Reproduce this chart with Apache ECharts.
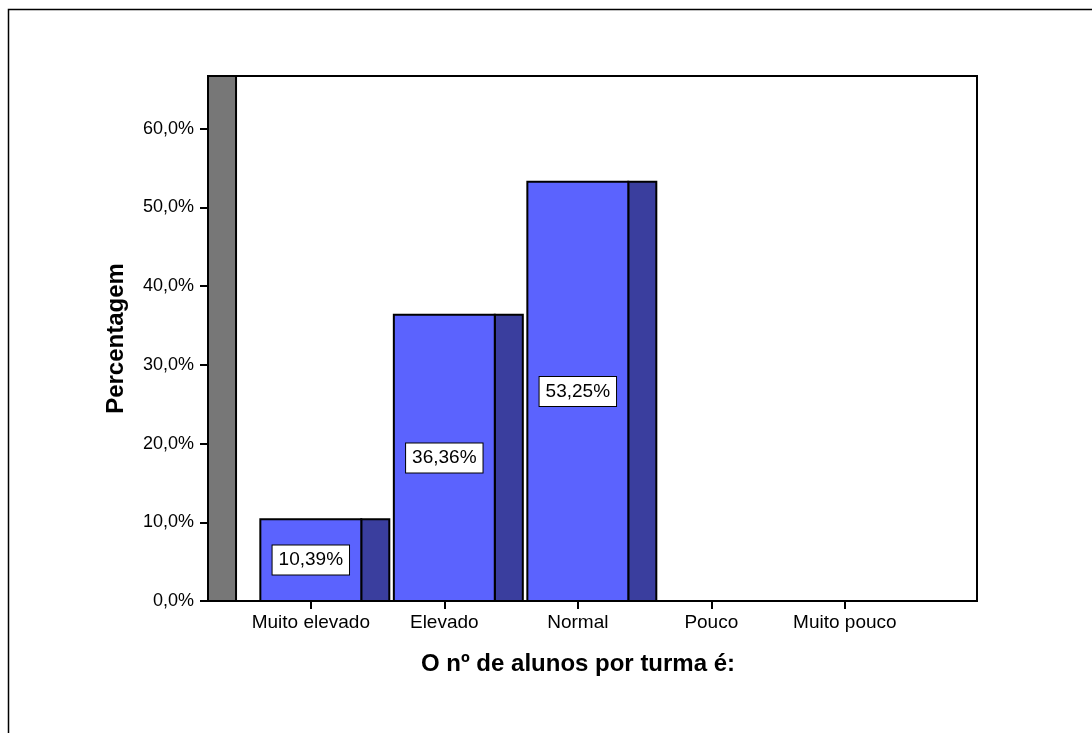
<!DOCTYPE html>
<html>
<head>
<meta charset="utf-8">
<title>O nº de alunos por turma é:</title>
<script src="https://cdn.jsdelivr.net/npm/echarts@6/dist/echarts.min.js"></script>
<style>
  html, body { margin: 0; padding: 0; background: #ffffff; }
  #chart { width: 1092px; height: 733px; }
</style>
</head>
<body>
<div id="chart"></div>
<script>
// Categories along the horizontal axis
const categories = ['Muito elevado', 'Elevado', 'Normal', 'Pouco', 'Muito pouco'];
// Percentage of answers in each category
const percentages = [10.39, 36.36, 53.25, 0, 0];
// Tick values on the percentage axis
const yTicks = [0, 10, 20, 30, 40, 50, 60];

const FONT = '"Liberation Sans", Arial, Helvetica, sans-serif';
const FRONT = '#5b63fe';
const SIDE = '#3a3e9e';
const WALL = '#777777';

function pct(v, digits) {
  return v.toFixed(digits).replace('.', ',') + '%';
}

const chart = echarts.init(document.getElementById('chart'), null, { renderer: 'canvas' });

// Pseudo-3D bar: front face plus a darker side face, value label in the middle
function renderBar(params, api) {
  const idx = api.value(0);
  const val = api.value(1);
  if (!(val > 0)) return null;
  const band = api.size([1, 0])[0];
  const half = band * 0.378;
  const depth = band * 0.21;
  const base = api.coord([idx, 0]);
  const top = api.coord([idx, val]);
  const x0 = base[0] - half;
  const x1 = base[0] + half;
  const h = base[1] - top[1];
  return {
    type: 'group',
    children: [
      {
        type: 'rect',
        shape: { x: x1, y: top[1], width: depth, height: h },
        style: { fill: SIDE, stroke: '#000', lineWidth: 2 }
      },
      {
        type: 'rect',
        shape: { x: x0, y: top[1], width: x1 - x0, height: h },
        style: { fill: FRONT, stroke: '#000', lineWidth: 2 }
      },
      {
        type: 'text',
        x: base[0],
        y: (base[1] + top[1]) / 2,
        style: {
          text: pct(val, 2),
          font: '19px ' + FONT,
          fill: '#000',
          align: 'center',
          verticalAlign: 'middle',
          backgroundColor: '#ffffff',
          borderColor: '#000',
          borderWidth: 1,
          padding: [5, 6, 5, 6]
        }
      }
    ]
  };
}

// Grey side wall on the left of the plotting area
function renderWall(params, api) {
  const cs = params.coordSys;
  const band = api.size([1, 0])[0];
  return {
    type: 'rect',
    shape: { x: cs.x, y: cs.y, width: band * 0.21, height: cs.height },
    style: { fill: WALL, stroke: '#000', lineWidth: 2 }
  };
}

const option = {
  backgroundColor: '#ffffff',
  animation: false,
  graphic: [
    {
      type: 'rect',
      shape: { x: 8.5, y: 9.5, width: 1200, height: 900 },
      style: { fill: 'none', stroke: '#000', lineWidth: 1.5 },
      silent: true
    }
  ],
  grid: {
    left: 208, top: 76, width: 769, height: 525,
    show: true,
    borderColor: '#000',
    borderWidth: 2,
    backgroundColor: '#ffffff'
  },
  xAxis: {
    type: 'value',
    min: -0.77,
    max: 4.99,
    name: 'O nº de alunos por turma é:',
    nameLocation: 'middle',
    nameGap: 51,
    nameTextStyle: {
      fontFamily: FONT, fontSize: 24, fontWeight: 'bold', color: '#000',
      padding: [0, 29, 0, 0]
    },
    axisLine: { show: true, onZero: false, lineStyle: { color: '#000', width: 2 } },
    axisTick: { show: true, length: 8, lineStyle: { color: '#000', width: 2 }, customValues: [0, 1, 2, 3, 4] },
    axisLabel: {
      customValues: [0, 1, 2, 3, 4],
      formatter: v => categories[Math.round(v)] || '',
      fontFamily: FONT, fontSize: 19, color: '#000', margin: 12
    },
    splitLine: { show: false }
  },
  yAxis: {
    type: 'value',
    min: 0,
    max: 66.7,
    name: 'Percentagem',
    nameLocation: 'middle',
    nameGap: 80,
    nameTextStyle: { fontFamily: FONT, fontSize: 24, fontWeight: 'bold', color: '#000' },
    axisLine: { show: true, onZero: false, lineStyle: { color: '#000', width: 2 } },
    axisTick: { show: true, length: 8, lineStyle: { color: '#000', width: 2 }, customValues: yTicks },
    axisLabel: {
      customValues: yTicks,
      formatter: v => pct(v, 1),
      fontFamily: FONT, fontSize: 18, color: '#000', margin: 14
    },
    splitLine: { show: false }
  },
  series: [
    {
      type: 'custom',
      renderItem: renderWall,
      data: [[0, 0]],
      silent: true,
      z: 1
    },
    {
      type: 'custom',
      renderItem: renderBar,
      data: percentages.map((v, i) => [i, v]),
      encode: { x: 0, y: 1 },
      z: 2
    }
  ]
};

chart.setOption(option);
</script>
</body>
</html>
